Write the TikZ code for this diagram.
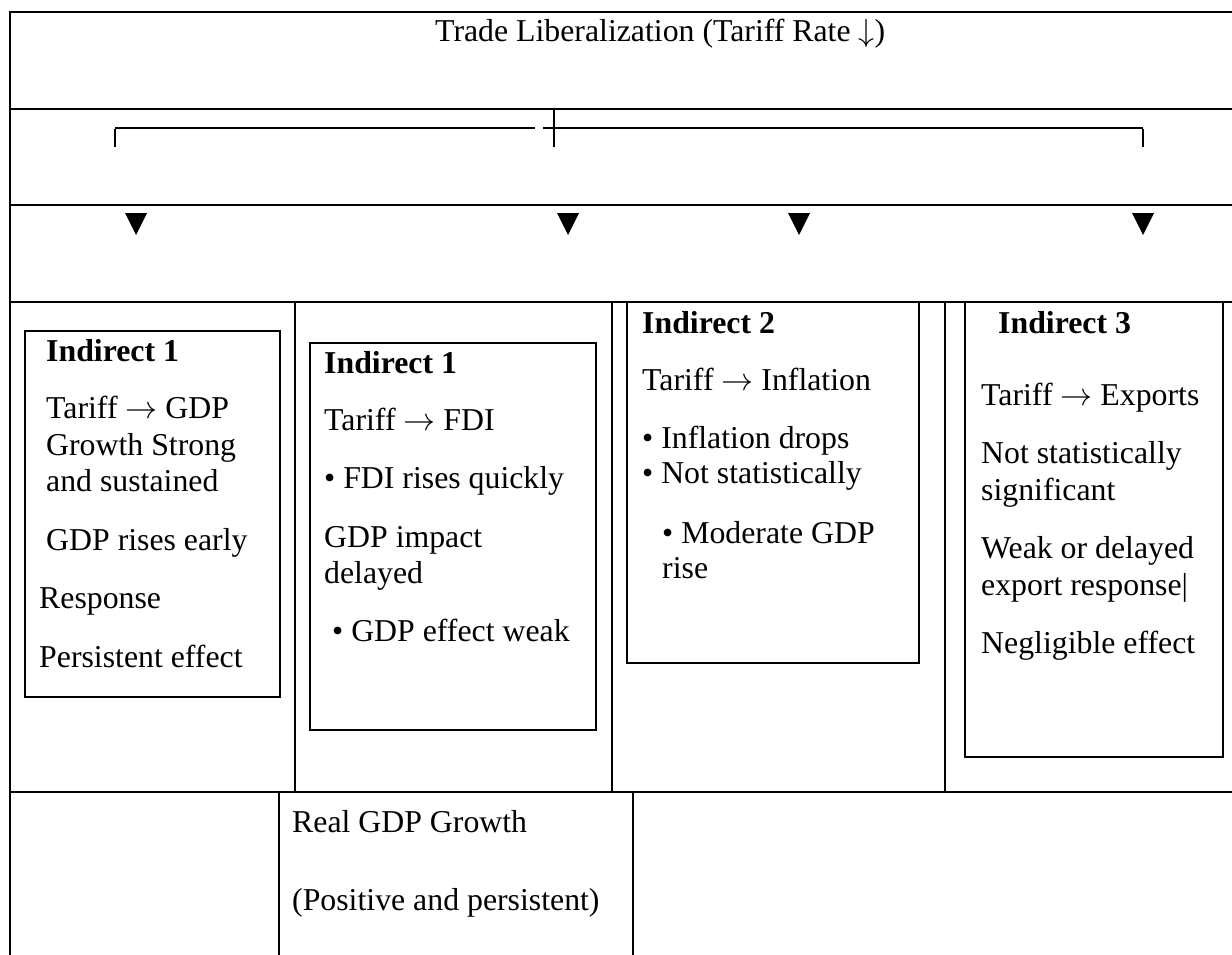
\documentclass[tikz,border=0pt]{standalone}
\usepackage{graphicx}
\usepackage{fontspec}
\setmainfont{Liberation Serif}
\newcommand{\rarr}{\scalebox{3.2}{\fontsize{10}{12}\selectfont$\rightarrow$}}
\newcommand{\darr}{\scalebox{3.2}{\fontsize{10}{12}\selectfont$\downarrow$}}
\begin{document}
\begin{tikzpicture}[x=1pt,y=-1pt,
  txt/.style={anchor=base west, inner sep=0pt, font=\fontsize{31.8}{36}\selectfont},
  hd/.style={anchor=base west, inner sep=0pt, font=\fontsize{31.8}{36}\selectfont\bfseries},
  gridline/.style={line width=2.8pt},
  boxline/.style={line width=2.3pt},
  bracketthin/.style={line width=1.4pt},
  bracketthick/.style={line width=2.2pt},
  tri/.style={fill=black}]
\useasboundingbox (0,0) rectangle (1232,955);
% table frame
\draw[gridline] (10,955) -- (10,12) -- (1232,12);
\foreach \y in {109,205,302,792} \draw[gridline] (10,\y) -- (1232,\y);
\foreach \x in {295,612,945} \draw[gridline] (\x,302) -- (\x,792);
\foreach \x in {279,633} \draw[gridline] (\x,792) -- (\x,955);
% title
\node[txt] (title) at (435,42) {Trade Liberalization (Tariff Rate \darr)};
% bracket
\coordinate (bl) at (115,147);
\coordinate (blt) at (115,128);
\coordinate (bm1) at (535,128);
\coordinate (bm2) at (543,128);
\coordinate (brt) at (1143,128);
\coordinate (br) at (1143,147);
\coordinate (bct) at (554,109);
\coordinate (bcb) at (554,147);
\draw[bracketthin] (blt) -- (bm1);
\draw[bracketthin] (bm2) -- (brt);
\draw[bracketthick] ([yshift=-0.7pt]blt) -- (bl);
\draw[bracketthick] ([yshift=-0.7pt]brt) -- (br);
\draw[bracketthick] (bct) -- (bcb);
% triangles
\foreach \x in {136,568,799,1143}
  \fill[tri] (\x-11,213) -- (\x+11,213) -- (\x,235) -- cycle;
% boxes
\draw[boxline] (25,331) rectangle (280,697);
\draw[boxline] (310,343) rectangle (596,730);
\draw[boxline] (627,302) rectangle (919,663);
\draw[boxline] (965,302) rectangle (1223,757);
% box 1
\node[hd]  (a0) at (46,361) {Indirect 1};
\node[txt] (a1) at (46,418) {Tariff \rarr{} GDP};
\node[txt] (a2) at (46,455) {Growth Strong};
\node[txt] (a3) at (46,491) {and sustained};
\node[txt] (a4) at (46,550) {GDP rises early};
\node[txt] (a5) at (39,608) {Response};
\node[txt] (a6) at (39,667) {Persistent effect};
% box 2
\node[hd]  (b0) at (324,373) {Indirect 1};
\node[txt] (b1) at (324,430) {Tariff \rarr{} FDI};
\node[txt] (b2) at (324,488) {• FDI rises quickly};
\node[txt] (b3) at (324,547) {GDP impact};
\node[txt] (b4) at (324,583) {delayed};
\node[txt] (b5) at (332,641) {• GDP effect weak};
% box 3
\node[hd]  (c0) at (642,333) {Indirect 2};
\node[txt] (c1) at (642,390) {Tariff \rarr{} Inflation};
\node[txt] (c2) at (642,448) {• Inflation drops};
\node[txt] (c3) at (642,483) {• Not statistically};
\node[txt] (c4) at (662,543) {• Moderate GDP};
\node[txt] (c5) at (662,578) {rise};
% box 4
\node[hd]  (d0) at (998,333) {Indirect 3};
\node[txt] (d1) at (981,405) {Tariff \rarr{} Exports};
\node[txt] (d2) at (981,463) {Not statistically};
\node[txt] (d3) at (981,500) {significant};
\node[txt] (d4) at (981,558) {Weak or delayed};
\node[txt] (d5) at (981,595) {export response|};
\node[txt] (d6) at (981,653) {Negligible effect};
% bottom row
\node[txt] (e1) at (292,832) {Real GDP Growth};
\node[txt] (e2) at (292,910) {(Positive and persistent)};
\end{tikzpicture}
\end{document}
